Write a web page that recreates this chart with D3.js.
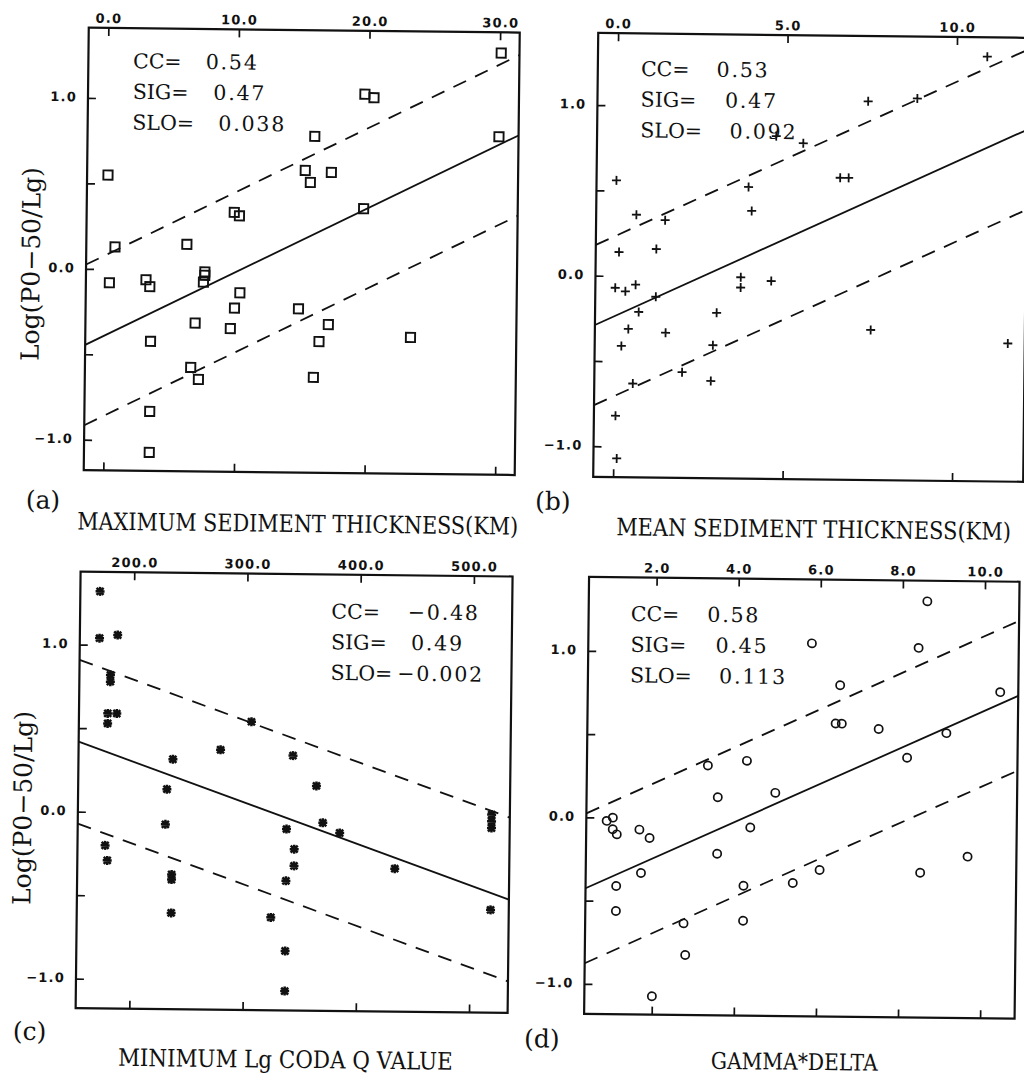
<!DOCTYPE html>
<html><head><meta charset="utf-8">
<script src="https://cdn.jsdelivr.net/npm/d3@7"></script>
<style>html,body{margin:0;padding:0;background:#fff;}svg{display:block;}</style>
</head><body>
<svg id="chart" width="1024" height="1076"></svg>
<script>
// ---------- DATA ----------
const maxThickX = [30.1,19.7,20.4,30.0,15.9,0.1,15.2,15.6,17.2,19.7,9.8,10.2,6.2,0.7,0.3,3.1,3.4,7.6,7.6,7.5,10.3,9.9,14.8,6.9,9.6,17.1,3.5,16.4,23.4,6.6,7.2,16.0,3.5,3.5];
const maxThickY = [1.29,1.04,1.02,0.80,0.79,0.55,0.59,0.52,0.58,0.37,0.34,0.32,0.15,0.13,-0.08,-0.06,-0.10,-0.01,-0.03,-0.07,-0.13,-0.22,-0.22,-0.31,-0.34,-0.31,-0.42,-0.41,-0.38,-0.57,-0.64,-0.62,-0.83,-1.07];

const meanThickX = [10.9,7.4,8.85,5.5,4.7,0.0,6.6,6.85,3.9,4.0,0.6,1.45,0.1,1.2,0.0,0.3,0.6,1.2,3.7,3.7,4.6,0.7,3.0,0.4,1.5,7.55,0.2,2.9,11.6,2.0,0.55,2.85,0.05,0.1];
const meanThickY = [1.31,1.04,1.06,0.79,0.83,0.56,0.59,0.59,0.53,0.39,0.36,0.33,0.14,0.16,-0.07,-0.09,-0.05,-0.12,0.0,-0.06,-0.02,-0.21,-0.21,-0.31,-0.33,-0.30,-0.41,-0.40,-0.37,-0.56,-0.63,-0.61,-0.82,-1.07];

const codaQX = [170,170,186,180,180,178,186,178,305,278,236,342,231,363,230,337,369,384,518,518,518,177,179,344,344,236,236,337,433,236,518,324,337,337];
const codaQY = [1.32,1.04,1.06,0.82,0.78,0.59,0.59,0.53,0.55,0.38,0.32,0.35,0.14,0.17,-0.07,-0.09,-0.05,-0.11,0.01,-0.03,-0.07,-0.20,-0.29,-0.21,-0.31,-0.37,-0.40,-0.40,-0.32,-0.60,-0.56,-0.62,-0.82,-1.06];

const gammaDeltaX = [8.6,5.8,8.4,10.4,6.5,6.4,6.55,7.45,9.1,8.15,3.3,4.25,3.55,4.95,0.85,1.0,1.0,1.1,1.65,1.9,4.35,3.55,1.7,1.1,4.2,5.4,6.05,8.5,9.65,1.1,2.75,4.2,2.8,2.0];
const gammaDeltaY = [1.32,1.06,1.04,0.78,0.81,0.58,0.58,0.55,0.53,0.38,0.32,0.35,0.13,0.16,-0.02,0.0,-0.07,-0.10,-0.07,-0.12,-0.05,-0.21,-0.33,-0.41,-0.40,-0.38,-0.30,-0.31,-0.21,-0.56,-0.63,-0.61,-0.82,-1.07];

const topTicksA = [0,10,20,30];
const topTicksB = [0,5,10];
const topTicksC = [200,300,400,500];
const topTicksD = [2,4,6,8,10];
const yTickValues = [-1,-0.5,0,0.5,1];
const yTickLabelled = [-1,0,1];

const panelLetters = ["(a)","(b)","(c)","(d)"];
const xTitles = ["MAXIMUM SEDIMENT THICKNESS(KM)","MEAN SEDIMENT THICKNESS(KM)","MINIMUM Lg CODA Q VALUE","GAMMA*DELTA"];
const yTitle = "Log(P0\u221250/Lg)";

const ccValues = [0.54,0.53,-0.48,0.58];
const sigValues = [0.47,0.47,0.49,0.45];
const sloValues = [0.038,0.092,-0.002,0.113];
const fitIntercepts = [-0.388,-0.235,0.785,-0.466];
const fitSlopes = [0.038,0.0925,-0.0024,0.113];

const xDomains = [[-1.5,31.5],[-0.587,12.1],[152.6,534.1],[0.354,10.84]];
const yDomains = [[-1.178,1.411],[-1.18,1.423],[-1.176,1.437],[-1.18,1.444]];

// ---------- LAYOUT ----------
const seriesX = [maxThickX, meanThickX, codaQX, gammaDeltaX];
const seriesY = [maxThickY, meanThickY, codaQY, gammaDeltaY];
const topTicks = [topTicksA, topTicksB, topTicksC, topTicksD];
const frames = [
  {l:83,  r:514,   t:32.5, b:475},
  {l:592.5,r:1022.5,t:32,  b:476},
  {l:81,  r:513,   t:576.5,b:1013},
  {l:589.5,r:1020, t:576,  b:1013}
];
const markers = ["square","plus","star","circle"];
const statsPos = [
  {u:44.7, v:40,   num:[72.7,80.7,86]},
  {u:43.2, v:42.5, num:[75.6,84.3,89.3]},
  {u:251.2,v:44,   num:[76.6,80,66.6]},
  {u:42.2, v:43.6, num:[76.6,85,89]}
];
const titlePos = [
  {u:-5.7, v:59.4, w:441, s:24},
  {u:23.6, v:58.1, w:395, s:24},
  {u:42.9, v:57.3, w:335, s:24},
  {u:127.3,v:53.5, w:167, s:23}
];
const letterPos = [
  {u:-57.6, v:39}, {u:-57.7, v:33.5}, {u:-62.4, v:32.4}, {u:-59.6, v:34}
];
const INK = "#111";
const tickFont = "'DejaVu Sans', sans-serif";
const serif = "'DejaVu Serif', serif";

const svg = d3.select("#chart");
const root = svg.append("g").attr("transform","rotate(0.65,512,538)");
const fmt1 = d3.format(".1f"), fmt2 = d3.format(".2f"), fmt3 = d3.format(".3f");

// text squeezed horizontally to a measured width
function fittedText(parent, str, size, width, tf, anchor) {
  const t = parent.append("text").text(str).attr("fill",INK)
    .style("font-family",serif).style("font-size",size+"px")
    .attr("text-anchor",anchor || "start");
  const natural = t.node().getComputedTextLength();
  t.attr("transform", tf + ` scale(${width/natural},1)`);
  return t;
}

frames.forEach((f,i) => {
  const g = root.append("g");
  const x = d3.scaleLinear().domain(xDomains[i]).range([f.l,f.r]);
  const y = d3.scaleLinear().domain(yDomains[i]).range([f.b,f.t]);

  const clipId = "clip"+i;
  g.append("clipPath").attr("id",clipId).append("rect")
    .attr("x",f.l).attr("y",f.t).attr("width",f.r-f.l).attr("height",f.b-f.t);

  // axes
  const top = g.append("g").attr("transform",`translate(0,${f.t})`)
    .call(d3.axisTop(x).tickValues(topTicks[i]).tickSize(-8).tickPadding(5).tickFormat(fmt1));
  const bot = g.append("g").attr("transform",`translate(0,${f.b})`)
    .call(d3.axisBottom(x).tickValues(topTicks[i]).tickSize(-8).tickFormat(""));
  const left = g.append("g").attr("transform",`translate(${f.l},0)`)
    .call(d3.axisLeft(y).tickValues(yTickValues).tickSize(-8).tickPadding(11)
      .tickFormat(d => yTickLabelled.includes(d) ? fmt1(d) : ""));
  [top,bot,left].forEach(a => {
    a.select(".domain").remove();
    a.selectAll(".tick line").attr("stroke",INK).attr("stroke-width",1.7);
    a.selectAll(".tick text").attr("fill",INK).style("font-family",tickFont)
      .style("font-size","13px").style("font-weight","bold").style("letter-spacing","1.2px");
  });
  left.selectAll(".tick text").attr("dy","0.24em");

  // frame
  g.append("rect").attr("x",f.l).attr("y",f.t).attr("width",f.r-f.l).attr("height",f.b-f.t)
    .attr("fill","none").attr("stroke",INK).attr("stroke-width",2.2);

  // regression and +/- sigma lines
  const lg = g.append("g").attr("clip-path",`url(#${clipId})`);
  const xs = xDomains[i];
  [0,1,-1].forEach(k => {
    const line = d3.line().x(d => x(d)).y(d => y(fitIntercepts[i] + fitSlopes[i]*d + k*sigValues[i]));
    lg.append("path").datum(xs).attr("d",line).attr("fill","none").attr("stroke",INK)
      .attr("stroke-width",1.8).attr("stroke-dasharray", k===0 ? null : "14,10");
  });

  // points
  const pts = seriesX[i].map((v,j) => [v, seriesY[i][j]]);
  const pg = g.append("g");
  const m = markers[i];
  pts.forEach(p => {
    const cx = x(p[0]), cy = y(p[1]);
    if (m === "square") {
      pg.append("rect").attr("x",cx-4.6).attr("y",cy-4.6).attr("width",9.2).attr("height",9.2)
        .attr("fill","none").attr("stroke",INK).attr("stroke-width",1.9);
    } else if (m === "plus") {
      pg.append("path").attr("d",`M${cx-4.5},${cy}H${cx+4.5}M${cx},${cy-4.5}V${cy+4.5}`)
        .attr("stroke",INK).attr("stroke-width",1.8).attr("fill","none");
    } else if (m === "star") {
      pg.append("path").attr("d",`M${cx-4.5},${cy}H${cx+4.5}M${cx},${cy-4.5}V${cy+4.5}M${cx-3.5},${cy-3.5}L${cx+3.5},${cy+3.5}M${cx-3.5},${cy+3.5}L${cx+3.5},${cy-3.5}`)
        .attr("stroke",INK).attr("stroke-width",2.5).attr("fill","none");
    } else {
      pg.append("circle").attr("cx",cx).attr("cy",cy).attr("r",4.1)
        .attr("fill","none").attr("stroke",INK).attr("stroke-width",1.7);
    }
  });

  // stats text
  const sp = statsPos[i];
  const labels = ["CC=","SIG=","SLO="];
  const nums = [fmt2(ccValues[i]), fmt2(sigValues[i]), fmt3(sloValues[i])];
  labels.forEach((lab,k) => {
    const by = f.t + sp.v + k*30.7;
    g.append("text").attr("x",f.l+sp.u).attr("y",by).text(lab)
      .attr("fill",INK).style("font-family",serif).style("font-size","20.5px");
    g.append("text").attr("x",f.l+sp.u+sp.num[k]).attr("y",by).text(nums[k])
      .attr("fill",INK).style("font-family",serif).style("font-size","20.5px").style("letter-spacing","1.8px");
  });

  // x title
  const tp = titlePos[i];
  fittedText(g, xTitles[i], tp.s, tp.w, `translate(${f.l+tp.u},${f.b+tp.v})`);

  // panel letter
  const lp = letterPos[i];
  g.append("text").attr("x",f.l+lp.u).attr("y",f.b+lp.v).text(panelLetters[i])
    .attr("fill",INK).style("font-family",serif).style("font-size","25px");

  // y title on left panels
  if (i % 2 === 0) {
    const cx = f.l - 46.5, cy = f.t + 237;
    fittedText(g, yTitle, 25, 194, `translate(${cx},${cy}) rotate(-90)`, "middle");
  }
});
</script>
</body></html>
